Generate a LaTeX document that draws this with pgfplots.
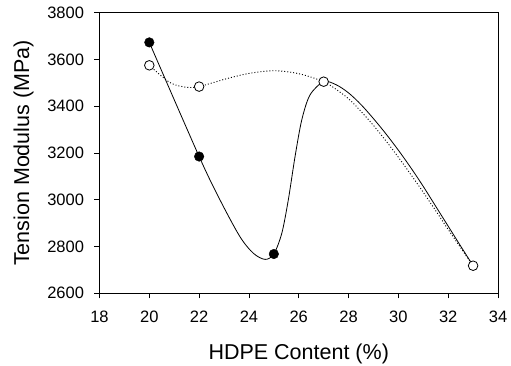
\documentclass[border=0pt]{standalone}
\usepackage{fontspec}
\setmainfont{Liberation Sans}
\usepackage{pgfplots}
\pgfplotsset{compat=1.18}
\begin{document}
\begin{tikzpicture}
\useasboundingbox (-99.5pt,-72pt) rectangle (411.5pt,293.3pt);
\begin{axis}[
  at={(0pt,0pt)}, anchor=south west,
  scale only axis, width=398.5pt, height=280.6pt,
  xmin=18, xmax=34, ymin=2600, ymax=3800,
  xtick={18,20,...,34}, ytick={2600,2800,...,3800},
  xtick pos=left, ytick pos=left, tick align=outside,
  major tick length=5pt,
  axis line style={line width=0.8pt},
  every tick/.style={black, line width=0.8pt},
  /pgf/number format/assume math mode=true,
  /pgf/number format/1000 sep={},
  ticklabel style={font=\fontsize{16.5}{18}\selectfont},
  xticklabel style={yshift=-9pt},
  yticklabel style={xshift=-7pt},
  label style={font=\fontsize{21.5}{24}\selectfont},
  xlabel={HDPE Content (\%)}, ylabel={Tension Modulus (MPa)},
  xlabel style={at={(axis description cs:0.5,-0.2352)}, anchor=base},
  ylabel style={at={(axis description cs:-0.1769,0.5)}, anchor=base},
  clip=false,
]
% solid curve
\addplot[black, line width=0.8pt, smooth] coordinates {
 (20,3673) (22,3185) (22.84,2999) (23.64,2842) (24.18,2771) (24.65,2745) (25,2768)
 (25.32,2857) (25.58,2999) (25.85,3184) (26.12,3341) (26.45,3448) (27,3505)
 (27.5,3492) (28,3457) (28.5,3407) (29,3347) (29.5,3282) (30,3212) (30.5,3137)
 (31,3057) (31.5,2972) (32,2887) (32.5,2802) (33,2718)};
% dotted curve
\addplot[black, line width=0.9pt, dash pattern=on 1pt off 2pt, smooth] coordinates {
 (20,3575) (20.83,3501) (21.50,3481) (22,3484) (23.11,3518) (24.04,3541) (25.05,3552)
 (26.05,3538) (27,3505) (27.5,3472) (28,3432) (28.5,3378) (29,3318) (29.5,3252)
 (30,3182) (30.5,3108) (31,3032) (31.5,2953) (32,2873) (32.5,2795) (33,2718)};
% filled markers
\addplot[only marks, mark=*, mark size=4.8pt, mark options={fill=black, draw=black}]
 coordinates {(20,3673) (22,3185) (25,2768)};
% open markers
\addplot[only marks, mark=*, mark size=4.8pt, mark options={fill=white, draw=black, line width=0.8pt}]
 coordinates {(20,3575) (22,3484) (27,3505) (33,2718)};
\end{axis}
\end{tikzpicture}
\end{document}
